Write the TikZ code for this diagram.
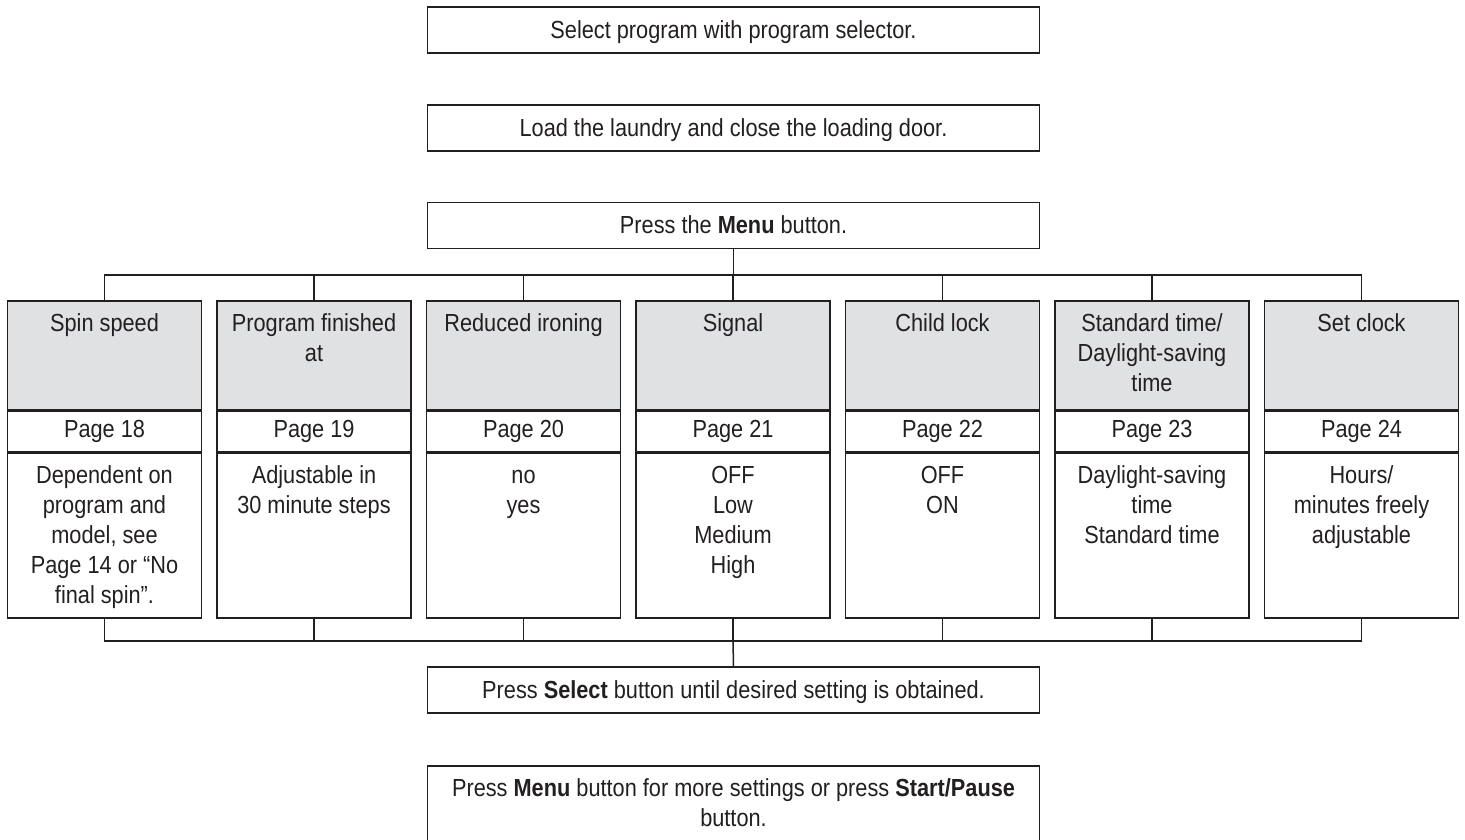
\documentclass[tikz,border=0pt]{standalone}
\usepackage{fontspec}
\setmainfont[FakeStretch=0.88]{Liberation Sans}
\definecolor{ink}{HTML}{231F20}
\definecolor{hdr}{RGB}{224,225,227}
\newcommand{\diafont}{\fontsize{24.7}{30}\selectfont}
\newcommand{\ml}[1]{\begin{tabular}{@{}c@{}}#1\end{tabular}}
\tikzset{
  fbox/.style={draw, minimum width=612pt, minimum height=46pt, inner sep=0pt, font=\diafont, execute at begin node={\rule[-7pt]{0pt}{30pt}}},
  hbox/.style={draw, fill=hdr, minimum width=194pt, minimum height=109pt, inner sep=0pt, anchor=north},
  pbox/.style={draw, minimum width=194pt, minimum height=40pt, inner sep=0pt, anchor=north, font=\diafont, execute at begin node=\strut},
  bbox/.style={draw, minimum width=194pt, minimum height=165pt, inner sep=0pt, anchor=north},
  lbl/.style={anchor=north, inner sep=0pt, yshift=-10pt, font=\diafont},
}
\begin{document}
\begin{tikzpicture}[x=1pt, y=-1pt, line width=1.5pt, color=ink]
\useasboundingbox (0,0) rectangle (1465,839);
\clip (0,0) rectangle (1465,839);

\node[fbox] (s1) at (733.5,30) {Select program with program selector.};
\node[fbox] (s2) at (733.5,128) {Load the laundry and close the loading door.};
\node[fbox] (s3) at (733.5,225.5) {Press the \textbf{Menu} button.};

\node[hbox, label={[lbl]north:{\ml{Spin speed}}}] (h1) at (104.5,300) {};
\node[pbox] (p1) at (h1.south) {Page 18};
\node[bbox, label={[lbl]north:{\ml{Dependent on\\program and\\model, see\\Page 14 or “No\\final spin”.}}}] (b1) at (p1.south) {};

\node[hbox, label={[lbl]north:{\ml{Program finished\\at}}}] (h2) at (314,300) {};
\node[pbox] (p2) at (h2.south) {Page 19};
\node[bbox, label={[lbl]north:{\ml{Adjustable in\\30 minute steps}}}] (b2) at (p2.south) {};

\node[hbox, label={[lbl]north:{\ml{Reduced ironing}}}] (h3) at (523.5,300) {};
\node[pbox] (p3) at (h3.south) {Page 20};
\node[bbox, label={[lbl]north:{\ml{no\\yes}}}] (b3) at (p3.south) {};

\node[hbox, label={[lbl]north:{\ml{Signal}}}] (h4) at (733,300) {};
\node[pbox] (p4) at (h4.south) {Page 21};
\node[bbox, label={[lbl]north:{\ml{OFF\\Low\\Medium\\High}}}] (b4) at (p4.south) {};

\node[hbox, label={[lbl]north:{\ml{Child lock}}}] (h5) at (942.5,300) {};
\node[pbox] (p5) at (h5.south) {Page 22};
\node[bbox, label={[lbl]north:{\ml{OFF\\ON}}}] (b5) at (p5.south) {};

\node[hbox, label={[lbl]north:{\ml{Standard time/\\Daylight-saving\\time}}}] (h6) at (1152,300) {};
\node[pbox] (p6) at (h6.south) {Page 23};
\node[bbox, label={[lbl]north:{\ml{Daylight-saving\\time\\Standard time}}}] (b6) at (p6.south) {};

\node[hbox, label={[lbl]north:{\ml{Set clock}}}] (h7) at (1361.5,300) {};
\node[pbox] (p7) at (h7.south) {Page 24};
\node[bbox, label={[lbl]north:{\ml{Hours/\\minutes freely\\adjustable}}}] (b7) at (p7.south) {};

\node[fbox] (sel) at (733.5,690) {Press \textbf{Select} button until desired setting is obtained.};
\node[fbox, minimum height=95pt, anchor=north,
  label={[lbl]north:{\ml{Press \textbf{Menu} button for more settings or press \textbf{Start/Pause}\\button.}}}] (fin) at (733.5,765) {};

\coordinate (tb) at (733,275);
\coordinate (bb) at (733,641);

\draw (s3.south) -- (s3.south |- tb);
\draw (h1.north) -- (h1.north |- tb) -- (h7.north |- tb) -- (h7.north);
\foreach \n in {2,...,6} \draw (h\n.north) -- (h\n.north |- tb);
\draw (b1.south) -- (b1.south |- bb) -- (b7.south |- bb) -- (b7.south);
\foreach \n in {2,...,6} \draw (b\n.south) -- (b\n.south |- bb);
\draw (bb) -- (sel.north);
\end{tikzpicture}
\end{document}
